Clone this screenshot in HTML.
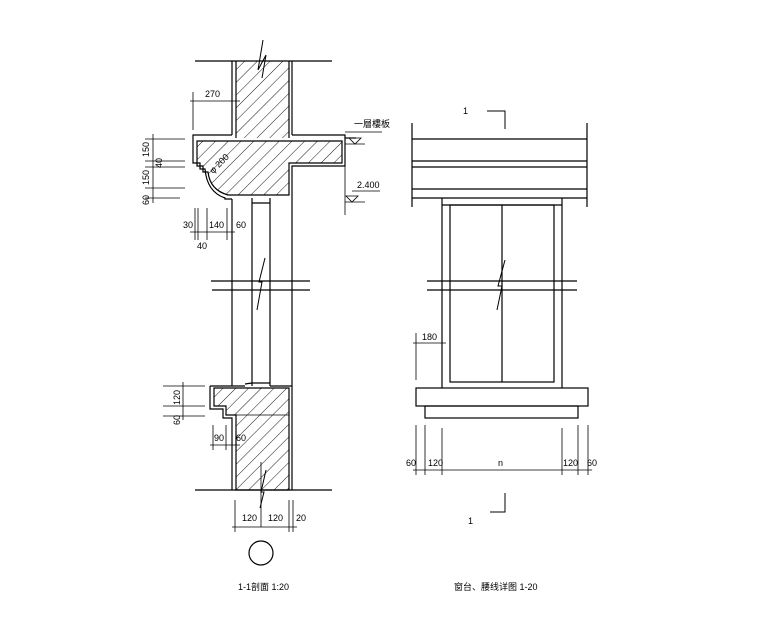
<!DOCTYPE html>
<html><head><meta charset="utf-8"><style>
html,body{margin:0;padding:0;background:#fff;}
svg{display:block}
text{font-family:"Liberation Sans","Noto Sans CJK SC",sans-serif;font-size:9px;fill:#000}
</style></head><body>
<svg width="784" height="630" viewBox="0 0 784 630" xmlns="http://www.w3.org/2000/svg">
<defs>
<pattern id="h" patternUnits="userSpaceOnUse" width="9" height="9" patternTransform="rotate(45)">
<line x1="0" y1="0" x2="0" y2="9" stroke="#000" stroke-width="0.9"/>
</pattern>
</defs>
<g stroke="#000" stroke-width="1.2" fill="none">
<!-- LEFT SECTION -->
<line x1="195" y1="61" x2="332" y2="61"/>
<rect x="236" y="61" width="53" height="77" fill="url(#h)" stroke="none"/>
<line x1="232" y1="61" x2="232" y2="135"/><line x1="236" y1="61" x2="236" y2="138"/>
<line x1="289" y1="61" x2="289" y2="138"/><line x1="292" y1="61" x2="292" y2="135"/>
<!-- slab -->
<path d="M197,141 L342,141 L342,163 L289,163 L289,195 L228,195 Q210,190 208,172 L203,172 L203,166 L197,166 Z" fill="url(#h)"/>
<path d="M232,135 L193,135 L193,163 L200,163 L200,169 L205,169 Q207,192 225,198 L225,199 L232,199"/>
<path d="M292,135 L345,135 L345,166 L292,166 L292,199"/>
<line x1="345" y1="138" x2="356" y2="138"/>
<!-- walls below slab -->
<line x1="232" y1="199" x2="232" y2="386"/>
<line x1="252" y1="198" x2="252" y2="383"/>
<line x1="270" y1="198" x2="270" y2="383"/>
<line x1="292" y1="199" x2="292" y2="490"/>
<line x1="252" y1="203" x2="270" y2="203"/>
<line x1="211" y1="281" x2="310" y2="281"/>
<line x1="212" y1="290" x2="310" y2="290"/>
<!-- bottom sill -->
<path d="M214,388 L289,388 L289,490 L236,490 L236,415 L226,415 L226,406 L214,406 Z" fill="url(#h)"/>
<line x1="236" y1="415" x2="289" y2="415" stroke-width="0.8"/>
<path d="M245,384 L252,383 L252,386 M270,386 L270,383 L252,383"/>
<path d="M210,386 L245,386 M270,386 L292,386 M210,386 L210,409 L223,409 L223,418 L232,418 L232,490"/>
<line x1="195" y1="490" x2="332" y2="490"/>
<line x1="261" y1="462" x2="261" y2="527" stroke-width="0.8"/>
<!-- break symbols -->
<path d="M263,40 L258,70 L266,55 L262,78" stroke-width="1"/>
<path d="M265,258 L259,282 L262,282 L257,310" stroke-width="1"/>
<path d="M266,470 L261,492 L264,492 L260,508" stroke-width="1"/>
<!-- dims left -->
<g stroke-width="0.8">
<line x1="145" y1="139" x2="185" y2="139"/><line x1="145" y1="161" x2="185" y2="161"/>
<line x1="145" y1="167" x2="185" y2="167"/><line x1="145" y1="188" x2="185" y2="188"/>
<line x1="145" y1="198" x2="180" y2="198"/>
<line x1="153" y1="134" x2="153" y2="203"/>
<line x1="193" y1="92" x2="193" y2="130"/><line x1="190" y1="101" x2="240" y2="101"/>
<line x1="195" y1="208" x2="195" y2="240"/><line x1="198" y1="208" x2="198" y2="240"/>
<line x1="207" y1="208" x2="207" y2="240"/><line x1="227" y1="208" x2="227" y2="240"/>
<line x1="190" y1="232" x2="235" y2="232"/>
<line x1="163" y1="386" x2="205" y2="386"/><line x1="163" y1="406" x2="205" y2="406"/>
<line x1="163" y1="416" x2="205" y2="416"/><line x1="183" y1="382" x2="183" y2="420"/>
<line x1="213" y1="425" x2="213" y2="450"/><line x1="226" y1="425" x2="226" y2="450"/>
<line x1="210" y1="445" x2="240" y2="445"/>
<line x1="235" y1="500" x2="235" y2="532"/><line x1="289" y1="500" x2="289" y2="532"/><line x1="293" y1="500" x2="293" y2="532"/>
<line x1="232" y1="527" x2="297" y2="527"/>
<!-- level marks -->
<line x1="345" y1="132" x2="382" y2="132"/>
<path d="M349,138 L361,138 L355,144 Z"/><line x1="345" y1="144" x2="365" y2="144"/>
<line x1="352" y1="191" x2="380" y2="191"/>
<path d="M346,196 L358,196 L352,202 Z"/><line x1="345" y1="202" x2="365" y2="202"/>
<line x1="345" y1="166" x2="345" y2="215"/>
</g>
<circle cx="261" cy="553" r="12"/>
<!-- RIGHT ELEVATION -->
<line x1="412" y1="123" x2="412" y2="207"/><line x1="587" y1="123" x2="587" y2="207"/>
<line x1="412" y1="139" x2="587" y2="139"/><line x1="412" y1="161" x2="587" y2="161"/>
<line x1="412" y1="167" x2="587" y2="167"/><line x1="412" y1="189" x2="587" y2="189"/>
<line x1="412" y1="198" x2="587" y2="198"/>
<path d="M442,198 L442,388 M562,198 L562,388"/>
<rect x="450" y="205" width="104" height="177"/>
<line x1="442" y1="205" x2="562" y2="205"/>
<line x1="502" y1="205" x2="502" y2="382"/>
<line x1="427" y1="281" x2="577" y2="281"/><line x1="427" y1="290" x2="577" y2="290"/>
<path d="M505,260 L498,286 L502,286 L497,310" stroke-width="1"/>
<rect x="416" y="388" width="172" height="18"/>
<rect x="425" y="406" width="153" height="12"/>
<g stroke-width="0.8">
<line x1="416" y1="333" x2="416" y2="380"/><line x1="413" y1="343" x2="446" y2="343"/>
<line x1="416" y1="425" x2="416" y2="475"/><line x1="425" y1="425" x2="425" y2="475"/>
<line x1="442" y1="428" x2="442" y2="475"/><line x1="562" y1="428" x2="562" y2="475"/>
<line x1="578" y1="425" x2="578" y2="475"/><line x1="588" y1="425" x2="588" y2="475"/>
<line x1="413" y1="470" x2="592" y2="470"/>
</g>
<path d="M487,111 L505,111 L505,129" stroke-width="1"/>
<path d="M505,493 L505,512 L490,512" stroke-width="1"/>
</g>
<!-- text -->
<text x="205" y="97">270</text>
<text transform="translate(149,157) rotate(-90)">150</text>
<text transform="translate(162,168) rotate(-90)">40</text>
<text transform="translate(149,185) rotate(-90)">150</text>
<text transform="translate(149,205) rotate(-90)">60</text>
<text x="183" y="228">30</text><text x="209" y="228">140</text><text x="236" y="228">60</text>
<text x="197" y="249">40</text>
<text x="213" y="174" transform="rotate(-45 213 174)" font-size="8">φ 200</text>
<text x="354" y="127" font-size="8">一層樓板</text>
<text x="357" y="188">2.400</text>
<text transform="translate(180,405) rotate(-90)">120</text>
<text transform="translate(180,425) rotate(-90)">60</text>
<text x="214" y="441">90</text><text x="236" y="441">60</text>
<text x="242" y="521">120</text><text x="268" y="521">120</text><text x="296" y="521">20</text>
<text x="238" y="590">1-1剖面 1:20</text>
<text x="463" y="114" font-size="16">1</text>
<text x="468" y="524" font-size="16">1</text>
<text x="422" y="340">180</text>
<text x="406" y="466">60</text><text x="428" y="466">120</text><text x="498" y="466">n</text>
<text x="563" y="466">120</text><text x="587" y="466">60</text>
<text x="454" y="590">窗台、腰线详图 1-20</text>
</svg>
</body></html>
